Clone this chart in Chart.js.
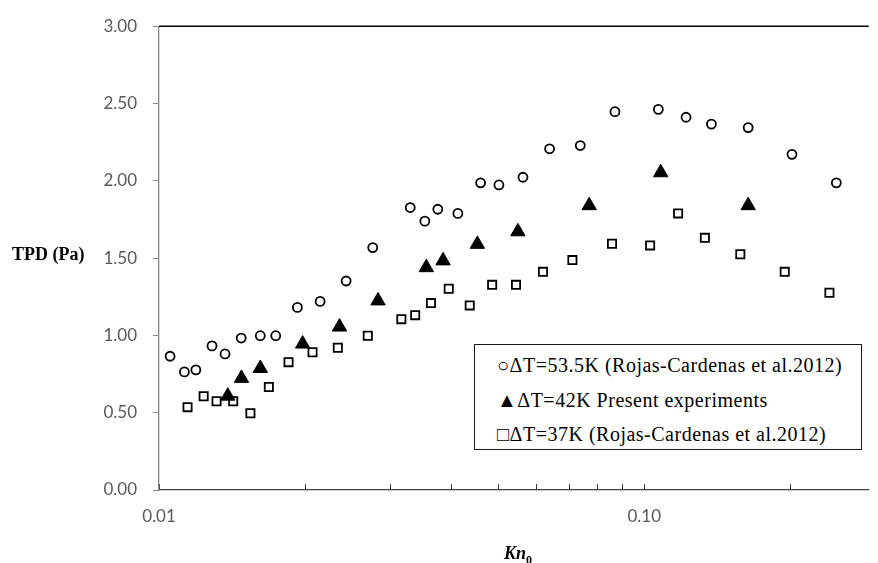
<!DOCTYPE html>
<html>
<head>
<meta charset="utf-8">
<script src="https://cdn.jsdelivr.net/npm/chart.js@4.4.1/dist/chart.umd.min.js"></script>
<style>
  html, body { margin: 0; padding: 0; background: #fff; overflow: hidden; }
  #wrap { position: relative; width: 878px; height: 563px; }
  #legend {
    position: absolute; left: 474px; top: 344px; width: 386px; height: 104px;
    border: 1px solid #1a1a1a; background: #fff;
    font-family: "Liberation Serif", "Times New Roman", serif; font-size: 20px; color: #000;
    letter-spacing: 0.5px;
  }
  #legend div { position: absolute; left: 22px; white-space: nowrap; line-height: 24px; }
  #ytitle {
    position: absolute; left: 12px; top: 244px; line-height: 20px;
    font-family: "Liberation Serif", "Times New Roman", serif; font-weight: bold; font-size: 18px;
  }
  #xtitle {
    position: absolute; left: 518px; top: 543px; line-height: 20px; transform: translateX(-50%);
    font-family: "Liberation Serif", "Times New Roman", serif; font-weight: bold; font-size: 18px;
  }
  #xtitle sub { font-style: normal; font-size: 12px; }
</style>
</head>
<body>
<div id="wrap">
  <canvas id="chart" width="878" height="563"></canvas>
  <div id="ytitle">TPD (Pa)</div>
  <div id="xtitle"><i>Kn</i><sub>0</sub></div>
  <div id="legend">
    <div style="top:8px">○ΔT=53.5K (Rojas-Cardenas et al.2012)</div>
    <div style="top:43px">▲ΔT=42K Present experiments</div>
    <div style="top:77px">□ΔT=37K (Rojas-Cardenas et al.2012)</div>
  </div>
</div>
<script>
// dT = 53.5K (Rojas-Cardenas et al. 2012)
const knCircle = [0.01054, 0.01128, 0.01191, 0.01286, 0.01368, 0.01477, 0.01617, 0.0174, 0.01928, 0.02148,
  0.0243, 0.02757, 0.03294, 0.0353, 0.03754, 0.04129, 0.04599, 0.05017, 0.05623, 0.0638,
  0.0738, 0.087, 0.1069, 0.1219, 0.1375, 0.1637, 0.2015, 0.2487];
const tpdCircle = [0.865, 0.764, 0.777, 0.932, 0.880, 0.983, 0.998, 0.998, 1.181, 1.220,
  1.352, 1.568, 1.827, 1.739, 1.816, 1.789, 1.987, 1.973, 2.023, 2.207,
  2.228, 2.447, 2.462, 2.411, 2.367, 2.344, 2.171, 1.987];

// dT = 42K present experiments
const knTriangle = [0.01386, 0.01479, 0.01617, 0.01977, 0.02355, 0.02827, 0.03555, 0.03849, 0.04529, 0.0549,
  0.077, 0.1081, 0.1637];
const tpdTriangle = [0.608, 0.723, 0.787, 0.945, 1.055, 1.224, 1.439, 1.483, 1.590, 1.671,
  1.840, 2.053, 1.840];

// dT = 37K (Rojas-Cardenas et al. 2012)
const knSquare = [0.01145, 0.01236, 0.01314, 0.01422, 0.01543, 0.01684, 0.01849, 0.02072, 0.02336, 0.02693,
  0.03158, 0.03372, 0.03634, 0.03954, 0.04368, 0.04858, 0.05441, 0.06183, 0.0711, 0.0858,
  0.1028, 0.1174, 0.1333, 0.1577, 0.1947, 0.2407];
const tpdSquare = [0.536, 0.606, 0.574, 0.574, 0.496, 0.666, 0.827, 0.891, 0.920, 0.998,
  1.105, 1.131, 1.209, 1.302, 1.194, 1.327, 1.327, 1.411, 1.487, 1.593,
  1.582, 1.789, 1.631, 1.525, 1.411, 1.276];

const xTickValues = [0.01, 0.02, 0.03, 0.04, 0.05, 0.06, 0.07, 0.08, 0.09, 0.1, 0.2];
const xTickLabels = ["0.01", "", "", "", "", "", "", "", "", "0.10", ""];

const toPoints = (xs, ys) => xs.map((x, i) => ({ x: x, y: ys[i] }));

// top frame line of the plot area
const topFrame = {
  id: "topFrame",
  afterDraw(chart) {
    const { ctx, chartArea } = chart;
    ctx.save();
    ctx.strokeStyle = "#000";
    ctx.lineWidth = 1.5;
    ctx.beginPath();
    ctx.moveTo(chartArea.left, chartArea.top);
    ctx.lineTo(chartArea.right, chartArea.top);
    ctx.stroke();
    ctx.restore();
  },
};

const tickFont = { family: "Lato, 'Open Sans', sans-serif", size: 17 };

new Chart(document.getElementById("chart"), {
  type: "scatter",
  data: {
    datasets: [
      {
        label: "ΔT=53.5K (Rojas-Cardenas et al.2012)",
        data: toPoints(knCircle, tpdCircle),
        pointStyle: "circle",
        pointRadius: 4.5,
        borderWidth: 1.8,
        borderColor: "#000",
        backgroundColor: "#fff",
      },
      {
        label: "ΔT=42K Present experiments",
        data: toPoints(knTriangle, tpdTriangle),
        pointStyle: "triangle",
        pointRadius: 8.3,
        borderWidth: 1,
        borderColor: "#000",
        backgroundColor: "#000",
      },
      {
        label: "ΔT=37K (Rojas-Cardenas et al.2012)",
        data: toPoints(knSquare, tpdSquare),
        pointStyle: "rect",
        pointRadius: 5.8,
        borderWidth: 1.8,
        borderColor: "#000",
        backgroundColor: "#fff",
      },
    ],
  },
  options: {
    responsive: false,
    animation: false,
    layout: { padding: { top: 16, right: 0, bottom: 33, left: 0 } },
    plugins: { legend: { display: false }, tooltip: { enabled: false } },
    scales: {
      x: {
        type: "logarithmic",
        min: 0.01,
        max: 0.29,
        afterBuildTicks: (scale) => {
          scale.ticks = xTickValues.map((v) => ({ value: v }));
        },
        afterFit: (scale) => {
          scale.height = 40;
        },
        ticks: {
          autoSkip: false,
          maxRotation: 0,
          padding: 22,
          color: "#595959",
          font: tickFont,
          callback: (value, index) => xTickLabels[index],
        },
        grid: { drawOnChartArea: false, tickLength: -6, color: "#404040" },
        border: { color: "#404040", width: 1.3 },
      },
      y: {
        min: 0,
        max: 3,
        afterFit: (scale) => {
          scale.width = 159;
        },
        ticks: {
          stepSize: 0.5,
          padding: 16,
          color: "#595959",
          font: tickFont,
          callback: (value) => value.toFixed(2),
        },
        grid: { drawOnChartArea: false, tickLength: 6, color: "#868686" },
        border: { color: "#868686", width: 1.3 },
      },
    },
  },
  plugins: [topFrame],
});
</script>
</body>
</html>
